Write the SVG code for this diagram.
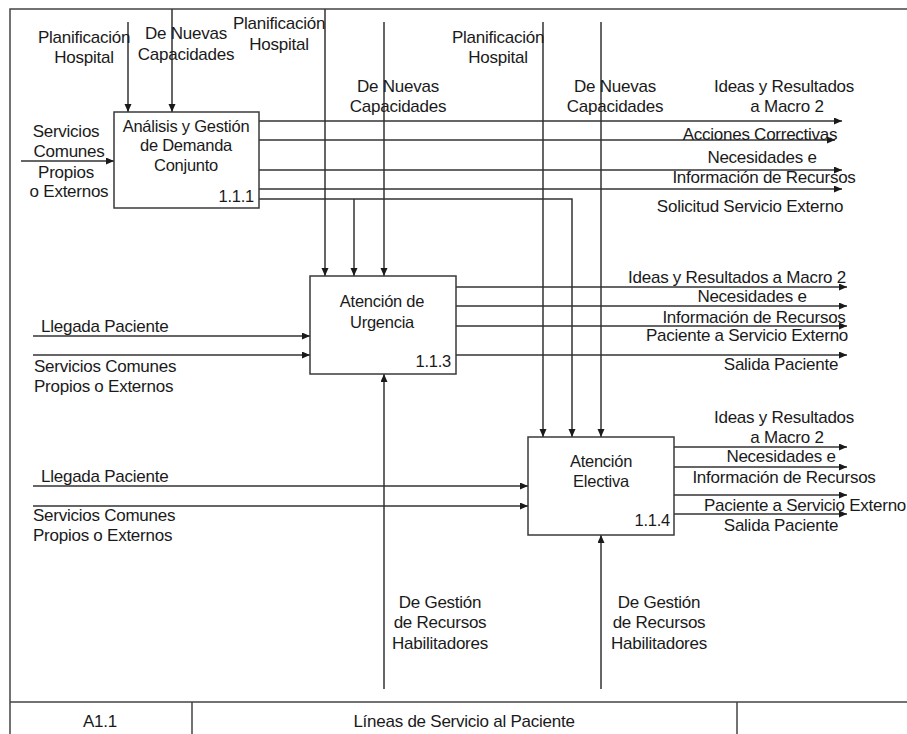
<svg xmlns="http://www.w3.org/2000/svg" width="907" height="734" viewBox="0 0 907 734">
  <style>
    text { font-family: "Liberation Sans", Arial, sans-serif; font-size: 17px; fill: #1a1a1a; letter-spacing: -0.25px; }
    .c { text-anchor: middle; }
    .r { text-anchor: end; }
    .box { fill: #ffffff; stroke: #3a3a3a; stroke-width: 1.5; }
    .bt { font-size: 16.5px; }
    .ln { fill: none; stroke: #333333; stroke-width: 1.5; }
    .arr { marker-end: url(#head); }
    .frame { fill: none; stroke: #444444; stroke-width: 1.5; }
  </style>
  <defs>
    <marker id="head" markerUnits="userSpaceOnUse" markerWidth="9" markerHeight="8" refX="8" refY="3.5" orient="auto">
      <path d="M0,0 L8,3.5 L0,7 Z" fill="#1a1a1a"/>
    </marker>
  </defs>

  <rect width="907" height="734" fill="#ffffff"/>

  <!-- sheet frame and title block -->
  <g id="frame">
    <path class="frame" d="M10,734 V9 H907"/>
    <path class="frame" d="M10,702 H907 M192,702 V734 M737,702 V734"/>
    <text class="c" x="100" y="727">A1.1</text>
    <text class="c" x="464" y="727">Líneas de Servicio al Paciente</text>
  </g>

  <!-- connectors -->
  <g id="connectors">
    <!-- 1.1.1 input and controls -->
    <path class="ln arr" d="M21,161 H114"/>
    <path class="ln arr" d="M128,22 V112"/>
    <path class="ln arr" d="M172,9 V112"/>
    <!-- 1.1.1 outputs -->
    <path class="ln arr" d="M259,121 H842"/>
    <path class="ln arr" d="M259,140 H835"/>
    <path class="ln arr" d="M259,170 H842"/>
    <path class="ln arr" d="M259,189 H842"/>
    <path class="ln arr" d="M259,199 H572 V437"/>
    <path class="ln arr" d="M354,199 V276"/>
    <!-- 1.1.3 controls, inputs, mechanism -->
    <path class="ln arr" d="M325,9 V276"/>
    <path class="ln arr" d="M384,22 V276"/>
    <path class="ln arr" d="M33,336 H310"/>
    <path class="ln arr" d="M33,355 H310"/>
    <path class="ln arr" d="M384,689 V374"/>
    <!-- 1.1.3 outputs -->
    <path class="ln arr" d="M456,287 H847"/>
    <path class="ln arr" d="M456,306 H847"/>
    <path class="ln arr" d="M456,326 H847"/>
    <path class="ln arr" d="M456,355 H847"/>
    <!-- 1.1.4 controls, inputs, mechanism -->
    <path class="ln arr" d="M543,22 V437"/>
    <path class="ln arr" d="M601,22 V437"/>
    <path class="ln arr" d="M33,486 H528"/>
    <path class="ln arr" d="M33,506 H528"/>
    <path class="ln arr" d="M601,689 V535"/>
    <!-- 1.1.4 outputs -->
    <path class="ln arr" d="M674,447 H847"/>
    <path class="ln arr" d="M674,467 H847"/>
    <path class="ln arr" d="M674,495 H847"/>
    <path class="ln arr" d="M674,514 H847"/>
  </g>

  <!-- activity 1.1.1 -->
  <g id="node-111">
    <rect class="box" x="114" y="112" width="145" height="96"/>
    <text class="c bt" x="186" y="132">Análisis y Gestión</text>
    <text class="c bt" x="186" y="151">de Demanda</text>
    <text class="c bt" x="186" y="171">Conjunto</text>
    <text class="r bt" x="254" y="202">1.1.1</text>
  </g>

  <!-- activity 1.1.3 -->
  <g id="node-113">
    <rect class="box" x="310" y="276" width="146" height="98"/>
    <text class="c bt" x="382" y="307">Atención de</text>
    <text class="c bt" x="382" y="328">Urgencia</text>
    <text class="r bt" x="451" y="367">1.1.3</text>
  </g>

  <!-- activity 1.1.4 -->
  <g id="node-114">
    <rect class="box" x="528" y="437" width="146" height="98"/>
    <text class="c bt" x="601" y="467">Atención</text>
    <text class="c bt" x="601" y="487">Electiva</text>
    <text class="r bt" x="670" y="526">1.1.4</text>
  </g>

  <!-- arrow labels -->
  <g id="labels">
    <text class="c" x="84" y="43">Planificación</text>
    <text class="c" x="84" y="63">Hospital</text>
    <text class="c" x="186" y="39">De Nuevas</text>
    <text class="c" x="186" y="60">Capacidades</text>
    <text class="c" x="279" y="29">Planificación</text>
    <text class="c" x="279" y="50">Hospital</text>
    <text class="c" x="398" y="92">De Nuevas</text>
    <text class="c" x="398" y="112">Capacidades</text>
    <text class="c" x="498" y="43">Planificación</text>
    <text class="c" x="498" y="63">Hospital</text>
    <text class="c" x="615" y="92">De Nuevas</text>
    <text class="c" x="615" y="112">Capacidades</text>

    <text class="c" x="66" y="137">Servicios</text>
    <text class="c" x="69" y="157">Comunes</text>
    <text class="c" x="66" y="178">Propios</text>
    <text class="c" x="69" y="197">o Externos</text>

    <text class="c" x="784" y="92">Ideas y Resultados</text>
    <text class="c" x="787" y="112">a Macro 2</text>
    <text class="c" x="760" y="140">Acciones Correctivas</text>
    <text class="c" x="762" y="163">Necesidades e</text>
    <text class="c" x="764" y="183">Información de Recursos</text>
    <text class="c" x="750" y="212">Solicitud Servicio Externo</text>

    <text x="41" y="332">Llegada Paciente</text>
    <text x="34" y="372">Servicios Comunes</text>
    <text x="34" y="392">Propios o Externos</text>

    <text class="c" x="737" y="283">Ideas y Resultados a Macro 2</text>
    <text class="c" x="752" y="302">Necesidades e</text>
    <text class="c" x="754" y="323">Información de Recursos</text>
    <text class="c" x="747" y="341">Paciente a Servicio Externo</text>
    <text class="c" x="781" y="370">Salida Paciente</text>

    <text class="c" x="784" y="423">Ideas y Resultados</text>
    <text class="c" x="787" y="443">a Macro 2</text>
    <text class="c" x="781" y="462">Necesidades e</text>
    <text class="c" x="784" y="483">Información de Recursos</text>
    <text class="c" x="805" y="511">Paciente a Servicio Externo</text>
    <text class="c" x="781" y="531">Salida Paciente</text>

    <text x="41" y="482">Llegada Paciente</text>
    <text x="33" y="521">Servicios Comunes</text>
    <text x="33" y="541">Propios o Externos</text>

    <text class="c" x="440" y="608">De Gestión</text>
    <text class="c" x="440" y="628">de Recursos</text>
    <text class="c" x="440" y="649">Habilitadores</text>
    <text class="c" x="659" y="608">De Gestión</text>
    <text class="c" x="659" y="628">de Recursos</text>
    <text class="c" x="659" y="649">Habilitadores</text>
  </g>
</svg>
